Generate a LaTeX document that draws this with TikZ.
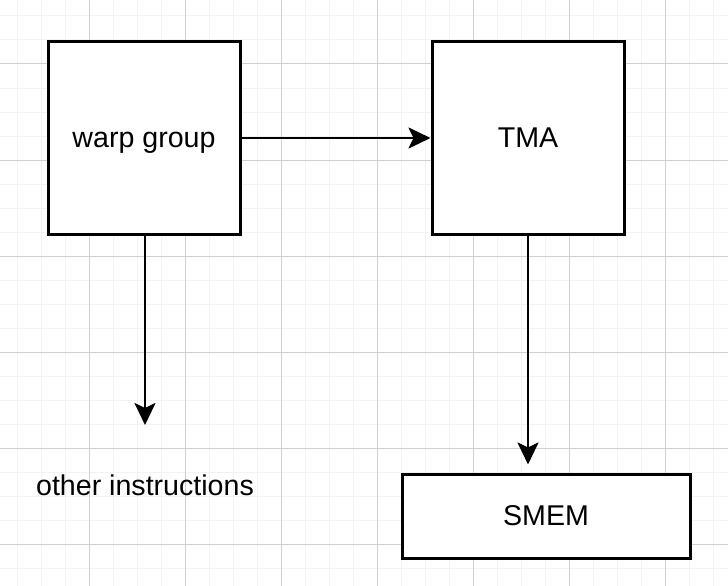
\documentclass[tikz,border=0pt]{standalone}
\usepackage{fontspec}
\setmainfont{Liberation Sans}
\usetikzlibrary{positioning, calc, arrows.meta}

\begin{document}
\begin{tikzpicture}
    [
        x=1pt, y=-1pt,
        basic/.style = {draw, line width=3pt, text centered, inner sep=0pt, text height=19.5pt, text depth=1pt, font=\fontsize{28.6}{34}\selectfont},
        rect/.style = {basic, minimum width=192pt, minimum height=192pt},
        wide/.style = {basic, minimum width=288pt, minimum height=84pt},
        label/.style = {inner sep=0pt, anchor=base, font=\fontsize{28.6}{34}\selectfont},
        minorgrid/.style = {draw=black!5, line width=1pt},
        majorgrid/.style = {draw=black!19, line width=1pt},
        conn/.style = {->, line width=2.6pt},
        >={Stealth[length=22pt, width=21pt, inset=5pt]}
    ]
    \useasboundingbox (0,0) rectangle (728,586);
    \fill[white] (0,0) rectangle (728,586);

    % grid
    \foreach \k in {0, ..., 29} \draw [minorgrid] (17.3+24*\k,0) -- (17.3+24*\k,586);
    \foreach \k in {0, ..., 24} \draw [minorgrid] (0,16+24*\k) -- (728,16+24*\k);
    \foreach \k in {0, ..., 6} \draw [majorgrid] (89.3+96*\k,0) -- (89.3+96*\k,586);
    \foreach \k in {0, ..., 5} \draw [majorgrid] (0,64+96*\k) -- (728,64+96*\k);

    \node [rect, fill=white] (warp) at (144,138) {warp group};
    \node [rect, fill=white] (tma) at (528,138) {TMA};
    \node [wide, fill=white] (smem) at (546,516) {SMEM};
    \node [label] (other) at (145,495) {other instructions};
    \coordinate (otherin) at (145,425);

    \draw [conn] (warp) -- (tma);
    \draw [conn] (warp.south -| otherin) -- (otherin);
    \draw [conn, shorten >=8pt] (tma) -- (tma.south |- smem.north);

\end{tikzpicture}
\end{document}
